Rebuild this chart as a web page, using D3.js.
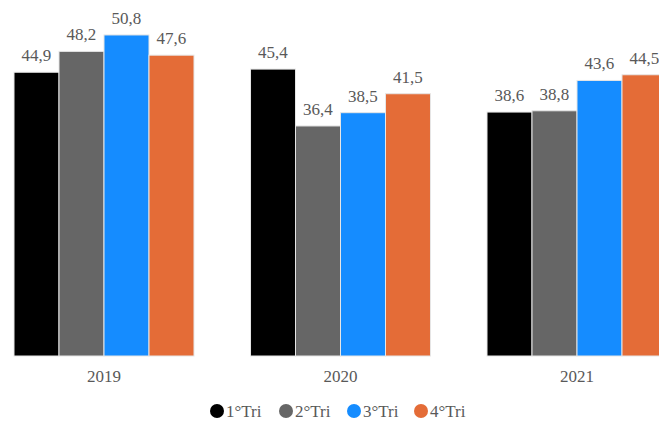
<!DOCTYPE html>
<html><head><meta charset="utf-8">
<script src="https://cdn.jsdelivr.net/npm/d3@7"></script>
<style>body{margin:0;background:#fff;overflow:hidden}svg{display:block}
text{font-family:"Liberation Serif","Times New Roman",Times,"DejaVu Serif",serif;}</style>
</head><body>
<script>
const years = ["2019","2020","2021"];
const series = ["1°Tri","2°Tri","3°Tri","4°Tri"];
const values = [
  [44.9, 48.2, 50.8, 47.6],
  [45.4, 36.4, 38.5, 41.5],
  [38.6, 38.8, 43.6, 44.5]
];
const colors = ["#000000","#666666","#158cff","#e46c37"];
const fmt = v => d3.format(".1f")(v).replace(".", ",");

const W = 659, H = 425;
const svg = d3.select("body").append("svg").attr("width", W).attr("height", H);

const x0 = d3.scaleBand().domain(years).range([-14.25, 695.25]).paddingInner(0.239).paddingOuter(0.1195);
const x1 = d3.scaleBand().domain(series).range([0, x0.bandwidth()]);
const y = d3.scaleLinear().domain([0, 56]).range([356, 2.1]);

const g = svg.selectAll("g.grp").data(years).enter().append("g")
  .attr("transform", d => `translate(${x0(d)},0)`);

g.selectAll("rect").data((d,i) => values[i].map((v,j) => ({v, s: series[j], j})))
  .enter().append("rect")
  .attr("x", d => x1(d.s)).attr("width", x1.bandwidth())
  .attr("y", d => y(d.v)).attr("height", d => y(0) - y(d.v))
  .attr("fill", d => colors[d.j])
  .attr("stroke", "#e6e6e6").attr("stroke-width", 1);

g.selectAll("text").data((d,i) => values[i].map((v,j) => ({v, s: series[j], j})))
  .enter().append("text")
  .attr("x", d => x1(d.s) + x1.bandwidth()/2).attr("y", d => y(d.v) - 11)
  .attr("text-anchor", "middle")
  .attr("font-size", 17)
  .attr("fill", "#595959").text(d => fmt(d.v));

const xAxis = svg.append("g").attr("transform", `translate(0,${y(0)})`)
  .call(d3.axisBottom(x0).tickSize(0).tickPadding(14));
xAxis.select(".domain").remove();
xAxis.selectAll("text").attr("font-family", null).attr("font-size", 17).attr("fill", "#595959");

const legX = [217, 286, 354, 421];
const leg = svg.append("g");
series.forEach((s, i) => {
  leg.append("circle").attr("cx", legX[i]).attr("cy", 411).attr("r", 7).attr("fill", colors[i]);
  leg.append("text").attr("x", legX[i] + 9).attr("y", 411).attr("dy", "0.35em")
    .attr("font-size", 17)
    .attr("fill", "#595959").text(s);
});
</script>
</body></html>
